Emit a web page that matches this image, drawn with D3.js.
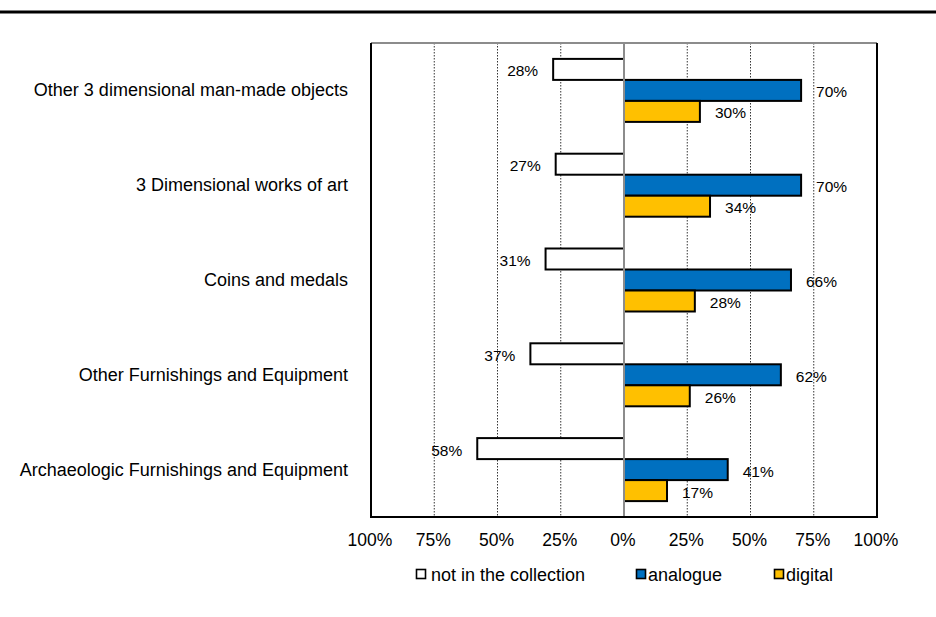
<!DOCTYPE html>
<html>
<head>
<meta charset="utf-8">
<script src="https://cdn.jsdelivr.net/npm/d3@7"></script>
<style>
  html, body { margin: 0; padding: 0; background: #fff; }
  svg { display: block; font-family: Arial, "Liberation Sans", sans-serif; }
</style>
</head>
<body>
<svg id="chart" width="936" height="617"></svg>
<script>
const categories = [
  "Other 3 dimensional man-made objects",
  "3 Dimensional works of art",
  "Coins and medals",
  "Other Furnishings and Equipment",
  "Archaeologic Furnishings and Equipment"
];
const seriesNames = ["not in the collection", "analogue", "digital"];
const notInCollection = [28, 27, 31, 37, 58];
const analogue = [70, 70, 66, 62, 41];
const digital = [30, 34, 28, 26, 17];
const tickValues = [-100, -75, -50, -25, 0, 25, 50, 75, 100];
const tickLabels = ["100%", "75%", "50%", "25%", "0%", "25%", "50%", "75%", "100%"];
const seriesColors = ["#FFFFFF", "#0070C0", "#FFC000"];

(function () {
const svg = d3.select("#chart");
const pLeft = 371, pRight = 877, pTop = 43, pBottom = 517;

// top rule
svg.append("line").attr("x1", 0).attr("x2", 936).attr("y1", 12).attr("y2", 12)
  .attr("stroke", "#000").attr("stroke-width", 3);

const x = d3.scaleLinear().domain([-100, 100]).range([pLeft, pRight]);
const y = d3.scaleBand().domain(categories).range([pTop, pBottom]).padding(0);
const yInner = d3.scaleBand().domain(seriesNames).range([0, y.bandwidth()])
  .paddingInner(0).paddingOuter(0.757);

// gridlines
svg.append("g").selectAll("line")
  .data(tickValues.filter(v => v !== 0 && Math.abs(v) !== 100))
  .join("line")
  .attr("x1", d => x(d)).attr("x2", d => x(d))
  .attr("y1", pTop).attr("y2", pBottom)
  .attr("stroke", "#000").attr("stroke-width", 0.8)
  .attr("stroke-dasharray", "1.5,1.5");

// frame
svg.append("line").attr("x1", pLeft).attr("x2", pRight).attr("y1", pTop).attr("y2", pTop)
  .attr("stroke", "#8c8c8c").attr("stroke-width", 2);
svg.append("line").attr("x1", pLeft).attr("x2", pLeft).attr("y1", pTop).attr("y2", pBottom)
  .attr("stroke", "#000").attr("stroke-width", 2);
svg.append("line").attr("x1", pRight).attr("x2", pRight).attr("y1", pTop).attr("y2", pBottom + 1)
  .attr("stroke", "#000").attr("stroke-width", 2);

const data = [];
categories.forEach((c, i) => {
  data.push({ cat: c, s: seriesNames[0], v: -notInCollection[i], label: notInCollection[i], k: 0 });
  data.push({ cat: c, s: seriesNames[1], v: analogue[i], label: analogue[i], k: 1 });
  data.push({ cat: c, s: seriesNames[2], v: digital[i], label: digital[i], k: 2 });
});

svg.append("g").selectAll("rect").data(data).join("rect")
  .attr("x", d => x(Math.min(0, d.v)))
  .attr("width", d => Math.abs(x(d.v) - x(0)))
  .attr("y", d => y(d.cat) + yInner(d.s))
  .attr("height", yInner.bandwidth())
  .attr("fill", d => seriesColors[d.k])
  .attr("stroke", "#000").attr("stroke-width", 2);

// zero line
svg.append("line").attr("x1", x(0)).attr("x2", x(0)).attr("y1", pTop).attr("y2", pBottom)
  .attr("stroke", "#8c8c8c").attr("stroke-width", 2);

// bottom axis line
svg.append("line").attr("x1", pLeft - 1).attr("x2", pRight + 1).attr("y1", pBottom).attr("y2", pBottom)
  .attr("stroke", "#000").attr("stroke-width", 2);

// data labels
svg.append("g").selectAll("text").data(data).join("text")
  .attr("x", d => d.v < 0 ? x(d.v) - 15 : x(d.v) + 15)
  .attr("y", d => y(d.cat) + yInner(d.s) + yInner.bandwidth() / 2 + 1.5)
  .attr("text-anchor", d => d.v < 0 ? "end" : "start")
  .attr("dominant-baseline", "central")
  .attr("font-size", 15.5).attr("fill", "#000")
  .text(d => d.label + "%");

// category labels
svg.append("g").selectAll("text").data(categories).join("text")
  .attr("x", 348)
  .attr("y", d => y(d) + y.bandwidth() / 2)
  .attr("text-anchor", "end").attr("dominant-baseline", "central")
  .attr("font-size", 18).attr("fill", "#000")
  .text(d => d);

// x tick labels
svg.append("g").selectAll("text").data(tickValues).join("text")
  .attr("x", d => x(d) - 1)
  .attr("y", 540)
  .attr("text-anchor", "middle").attr("dominant-baseline", "central")
  .attr("font-size", 17.5).attr("fill", "#000")
  .text((d, i) => tickLabels[i]);

// legend
const legendX = [416, 636, 774];
const lg = svg.append("g").selectAll("g").data(seriesNames).join("g")
  .attr("transform", (d, i) => `translate(${legendX[i]},569)`);
lg.append("rect").attr("x", 0.5).attr("y", 0.5).attr("width", 9).attr("height", 9)
  .attr("fill", (d, i) => seriesColors[i]).attr("stroke", "#000").attr("stroke-width", 1.6);
lg.append("text").attr("x", (d, i) => i === 0 ? 15 : 12).attr("y", 5.5)
  .attr("dominant-baseline", "central")
  .attr("font-size", 18).attr("fill", "#000")
  .text(d => d);
})();
</script>
</body>
</html>
